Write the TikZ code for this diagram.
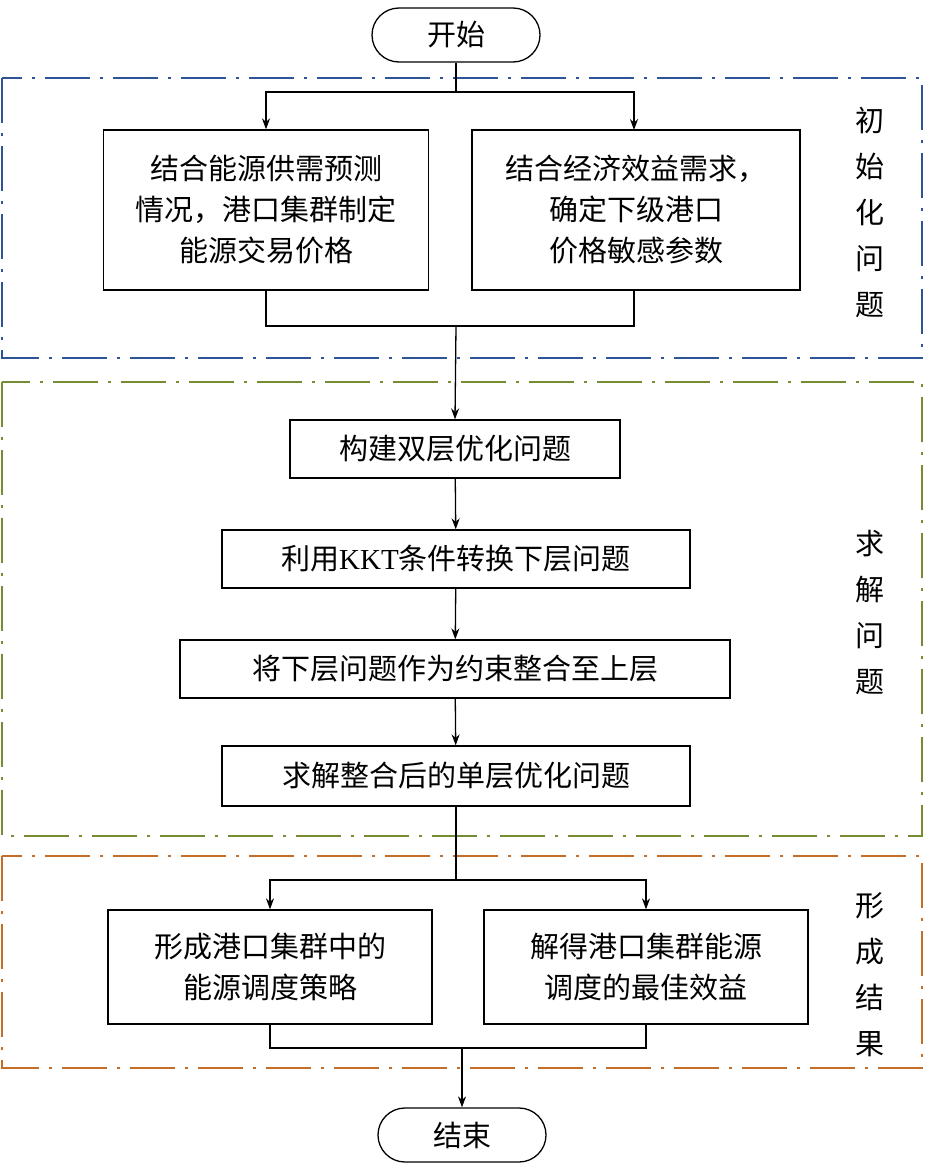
\documentclass[tikz,border=0pt]{standalone}
\usepackage{fontspec}
\setmainfont{Liberation Serif}
\newfontfamily\cjk{Noto Sans CJK SC}
\usetikzlibrary{arrows.meta}
\definecolor{bluel}{RGB}{47,84,150}
\definecolor{olivel}{RGB}{118,140,50}
\definecolor{orangel}{RGB}{197,110,40}
\begin{document}
\begin{tikzpicture}[x=1pt,y=-1pt,
  every node/.style={font=\cjk\fontsize{29}{41}\selectfont},
  proc/.style={draw,line width=1.3pt,align=center,inner sep=0pt},
  term/.style={draw,line width=1.3pt,rounded corners=27pt,inner sep=0pt},
  frame/.style={line width=1.2pt,dash pattern=on 45pt off 10pt on 3pt off 10pt},
  ln/.style={line width=1.3pt},
  arr/.style={line width=1.3pt,-{Stealth[length=11pt,width=8pt]}},
  lab/.style={align=center,font=\cjk\fontsize{29}{46}\selectfont}]
\useasboundingbox (0,0) rectangle (925,1167);
\fill[white] (0,0) rectangle (925,1167);
\draw[frame,bluel] (2,78) rectangle (922,358);
\draw[frame,olivel] (2,382) rectangle (922,836);
\draw[frame,orangel] (2,856) rectangle (922,1068);
\node[term,minimum width=168pt,minimum height=54pt] (start) at (456,35) {开始};
\node[proc,minimum width=325pt,minimum height=160pt] (a1) at (266,210) {结合能源供需预测\\情况，港口集群制定\\能源交易价格};
\node[proc,minimum width=328pt,minimum height=160pt] (a2) at (636,210) {结合经济效益需求，\\确定下级港口\\价格敏感参数};
\node[proc,minimum width=330pt,minimum height=58pt] (b1) at (455,449) {构建双层优化问题};
\node[proc,minimum width=468pt,minimum height=58pt] (b2) at (456,559) {利用{\rmfamily KKT}条件转换下层问题};
\node[proc,minimum width=550pt,minimum height=58pt] (b3) at (455,669) {将下层问题作为约束整合至上层};
\node[proc,minimum width=468pt,minimum height=60pt] (b4) at (456,776) {求解整合后的单层优化问题};
\node[proc,minimum width=324pt,minimum height=114pt] (c1) at (270,967) {形成港口集群中的\\能源调度策略};
\node[proc,minimum width=324pt,minimum height=114pt] (c2) at (646,967) {解得港口集群能源\\调度的最佳效益};
\node[term,minimum width=168pt,minimum height=54pt] (end) at (462,1135) {结束};
\node[lab] (l1) at (870,212) {初\\始\\化\\问\\题};
\node[lab] (l2) at (870,612) {求\\解\\问\\题};
\node[lab] (l3) at (870,975) {形\\成\\结\\果};
\coordinate (s1) at (456,92);
\draw[ln] (start.south) -- (s1);
\draw[arr] (s1) -| (a1.north);
\draw[arr] (s1) -| (634,130);
\coordinate (m1) at (456,326);
\draw[ln] (a1.south) |- (m1);
\draw[ln] (634,290) |- (m1);
\draw[arr] (m1) -- (b1.north);
\draw[arr] (b1) -- (b2);
\draw[arr] (b2) -- (b3);
\draw[arr] (b3) -- (b4);
\coordinate (s2) at (456,880);
\draw[ln] (b4.south) -- (s2);
\draw[arr] (s2) -| (c1.north);
\draw[arr] (s2) -| (c2.north);
\coordinate (m2) at (462,1048);
\draw[ln] (c1.south) |- (m2);
\draw[ln] (c2.south) |- (m2);
\draw[arr] (m2) -- (end.north);
\end{tikzpicture}
\end{document}
